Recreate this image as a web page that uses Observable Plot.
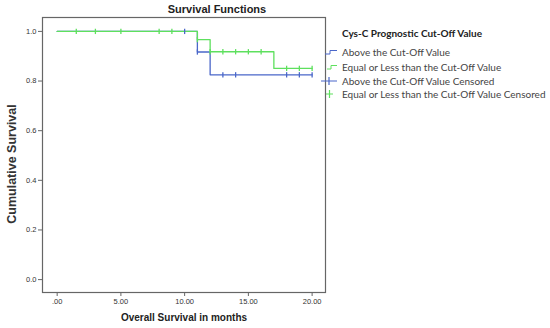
<!DOCTYPE html>
<html>
<head>
<meta charset="utf-8">
<script src="https://cdn.jsdelivr.net/npm/d3@7"></script>
<script src="https://cdn.jsdelivr.net/npm/@observablehq/plot@0.6"></script>
<style>
  html, body { margin: 0; padding: 0; background: #fff; }
  #chart svg { display: block; }
</style>
</head>
<body>
<div id="chart"></div>
<script>
// ---- Data ----
const title = "Survival Functions";
const xLabel = "Overall Survival in months";
const yLabel = "Cumulative Survival";
const legendTitle = "Cys-C Prognostic Cut-Off Value";
const legendLabels = [
  "Above the Cut-Off Value",
  "Equal or Less than the Cut-Off Value",
  "Above the Cut-Off Value Censored",
  "Equal or Less than the Cut-Off Value Censored"
];
const xTicks = [0, 5, 10, 15, 20];
const xTickLabels = [".00", "5.00", "10.00", "15.00", "20.00"];
const yTicks = [0, 0.2, 0.4, 0.6, 0.8, 1.0];

// step curves (time, survival)
const aboveTime = [0, 11, 12, 20];
const aboveSurv = [1.0, 0.917, 0.825, 0.825];
const lessTime = [0, 11, 12, 17, 20];
const lessSurv = [1.0, 0.967, 0.918, 0.851, 0.851];

// censored observations
const aboveCensTime = [10, 11, 13, 14, 18, 19, 20];
const aboveCensSurv = [1.0, 0.917, 0.825, 0.825, 0.825, 0.825, 0.825];
const lessCensTime = [1.5, 3, 5, 8, 9, 11, 12, 13, 14, 15, 16, 18, 19, 20];
const lessCensSurv = [1.0, 1.0, 1.0, 1.0, 1.0, 0.967, 0.918, 0.918, 0.918, 0.918, 0.918, 0.851, 0.851, 0.851];

const blue = "#4a67c9";
const green = "#5ee05e";

const above = aboveTime.map((t, i) => ({t, s: aboveSurv[i]}));
const less = lessTime.map((t, i) => ({t, s: lessSurv[i]}));
const aboveCens = aboveCensTime.map((t, i) => ({t, s: aboveCensSurv[i]}));
const lessCens = lessCensTime.map((t, i) => ({t, s: lessCensSurv[i]}));

// vertical bar symbol for censor marks
const vbar = {
  draw(ctx, size) {
    const h = Math.sqrt(size) / 2;
    ctx.moveTo(0, -h);
    ctx.lineTo(0, h);
  }
};

const W = 550, H = 328;
const mL = 42, mR = 225, mT = 17, mB = 36;

const plot = Plot.plot({
  width: W,
  height: H,
  marginLeft: mL,
  marginRight: mR,
  marginTop: mT,
  marginBottom: mB,
  style: {fontFamily: "Liberation Sans, Arial, sans-serif", fontSize: "7.5px", color: "#333", background: "#fff"},
  x: {domain: [-1.15, 21.05], ticks: xTicks, tickFormat: (d) => xTickLabels[xTicks.indexOf(d)], label: null},
  y: {domain: [-0.052, 1.056], ticks: yTicks, tickFormat: d3.format(".1f"), label: null},
  marks: [
    Plot.frame({stroke: "#666", strokeWidth: 1.2}),
    Plot.axisX({ticks: xTicks, tickFormat: (d) => xTickLabels[xTicks.indexOf(d)], tickSize: 4, tickPadding: 2, stroke: "#666", label: null}),
    Plot.axisY({ticks: yTicks, tickFormat: d3.format(".1f"), tickSize: 4, tickPadding: 2, stroke: "#666", label: null}),
    Plot.line(above, {x: "t", y: "s", curve: "step-after", stroke: blue, strokeWidth: 1.3}),
    Plot.line(less, {x: "t", y: "s", curve: "step-after", stroke: green, strokeWidth: 1.3}),
    Plot.dot(lessCens, {x: "t", y: "s", symbol: vbar, r: 3, stroke: green, strokeWidth: 1.3, fill: "none"}),
    Plot.dot(aboveCens, {x: "t", y: "s", symbol: vbar, r: 3, stroke: blue, strokeWidth: 1.3, fill: "none"})
  ]
});

document.getElementById("chart").appendChild(plot);

// ---- Titles, axis labels and legend as SVG text ----
const svg = d3.select(plot);
const fam = "Liberation Sans, Arial, sans-serif";

svg.append("text").attr("x", 217).attr("y", 13).attr("text-anchor", "middle")
  .attr("font-family", fam).attr("font-size", 11).attr("font-weight", "bold").attr("fill", "#222")
  .text(title);

svg.append("text").attr("x", 184).attr("y", 321).attr("text-anchor", "middle")
  .attr("font-family", fam).attr("font-size", 10).attr("font-weight", "bold").attr("fill", "#222")
  .text(xLabel);

svg.append("text").attr("transform", "translate(16,164) rotate(-90)").attr("text-anchor", "middle")
  .attr("font-family", fam).attr("font-size", 12.5).attr("font-weight", "bold").attr("fill", "#333")
  .text(yLabel);

const lf = "Lato, Open Sans, sans-serif";
const lg = svg.append("g").attr("text-anchor", "start");
lg.append("text").attr("x", 342).attr("y", 37).attr("text-anchor", "start")
  .attr("font-family", lf).attr("font-size", 10).attr("font-weight", "bold").attr("fill", "#222")
  .text(legendTitle);

const itemY = [52.5, 67.5, 81, 94];
legendLabels.forEach((lab, i) => {
  const y = itemY[i];
  lg.append("text").attr("x", 342).attr("y", y + 3.5).attr("text-anchor", "start")
    .attr("font-family", lf).attr("font-size", 10).attr("fill", "#444")
    .text(lab);
});
// legend glyphs
lg.append("path").attr("d", `M325,${itemY[0] + 1.5}H330V${itemY[0] - 2}H337`).attr("fill", "none").attr("stroke", blue).attr("stroke-width", 1);
lg.append("path").attr("d", `M327,${itemY[1] + 1.5}H331V${itemY[1] - 2}H337`).attr("fill", "none").attr("stroke", green).attr("stroke-width", 1);
lg.append("path").attr("d", `M321,${itemY[2]}H337M329,${itemY[2] - 4}V${itemY[2] + 4}`).attr("fill", "none").attr("stroke", blue).attr("stroke-width", 1.2);
lg.append("path").attr("d", `M326,${itemY[3]}H333M329.5,${itemY[3] - 4}V${itemY[3] + 4}`).attr("fill", "none").attr("stroke", green).attr("stroke-width", 1.2);
</script>
</body>
</html>
